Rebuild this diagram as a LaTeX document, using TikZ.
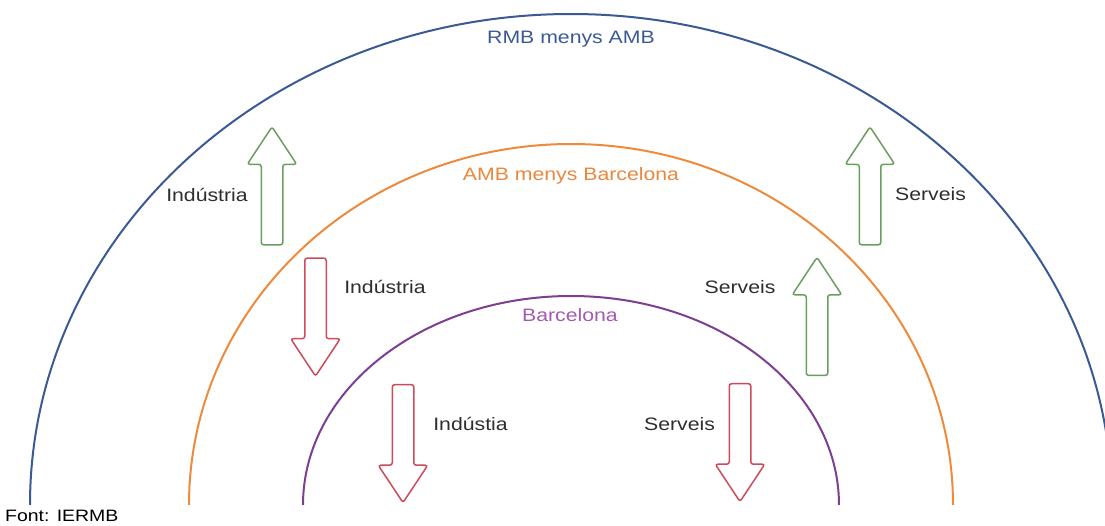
\documentclass[tikz,border=0pt]{standalone}
\usepackage{fontspec}
\setmainfont{Liberation Sans}[FakeStretch=1.18]
\usetikzlibrary{shapes.arrows}
\definecolor{rmbblue}{HTML}{3B5A94}
\definecolor{ambline}{HTML}{EE8A3C}
\definecolor{ambtext}{HTML}{E8883E}
\definecolor{bcnline}{HTML}{7D3F8F}
\definecolor{bcntext}{HTML}{A25BB0}
\definecolor{arrowgreen}{HTML}{6A9E5E}
\definecolor{arrowred}{HTML}{CC4B5A}
\definecolor{labelgray}{HTML}{2E2E2E}
\begin{document}
\begin{tikzpicture}[x=1pt,y=-1pt,
  lbl/.style={font=\fontsize{18}{20}\selectfont, text=labelgray, inner sep=0pt, anchor=base},
  ring/.style={line width=2pt},
  blockarrow/.style={single arrow, draw, line width=1.5pt, rounded corners=2.5pt,
    minimum height=118pt, minimum width=48pt, inner xsep=0pt, inner ysep=10pt,
    single arrow head extend=14pt, single arrow tip angle=67},
  uparrow/.style={blockarrow, draw=arrowgreen, rotate=90},
  downarrow/.style={blockarrow, draw=arrowred, rotate=-90}]
\useasboundingbox (0,0) rectangle (1105,525);
\begin{scope}
  \clip (0,0) rectangle (1105,504);
  \draw[ring, rmbblue] (571,505) ellipse [x radius=541, y radius=491];
  \draw[ring, ambline] (571,505) ellipse [x radius=382, y radius=361];
  \draw[ring, bcnline] (571,505) ellipse [x radius=268, y radius=209];
\end{scope}
% region labels
\node[lbl, text=rmbblue] (rmb) at (571,43) {RMB menys AMB};
\node[lbl, text=ambtext] (amb) at (571,180) {AMB menys Barcelona};
\node[lbl, text=bcntext] (bcn) at (570,321) {Barcelona};
% arrows
\node[uparrow] (a1) at (272,194) {};
\node[downarrow] (a2) at (315.5,309) {};
\node[downarrow] (a3) at (403,435.5) {};
\node[downarrow] (a4) at (740,434.5) {};
\node[uparrow] (a5) at (817,324.5) {};
\node[uparrow] (a6) at (870,194) {};
% arrow labels
\node[lbl] (l1) at (207,201) {Indústria};
\node[lbl] (l2) at (385,293) {Indústria};
\node[lbl] (l3) at (470.5,430) {Indústia};
\node[lbl] (l4) at (679.5,430) {Serveis};
\node[lbl] (l5) at (740,293) {Serveis};
\node[lbl] (l6) at (930.5,200) {Serveis};
% source
\node[font=\fontsize{16.5}{18}\selectfont, inner sep=0pt, anchor=base west] (src) at (5,521) {Font: IERMB};
\end{tikzpicture}
\end{document}
